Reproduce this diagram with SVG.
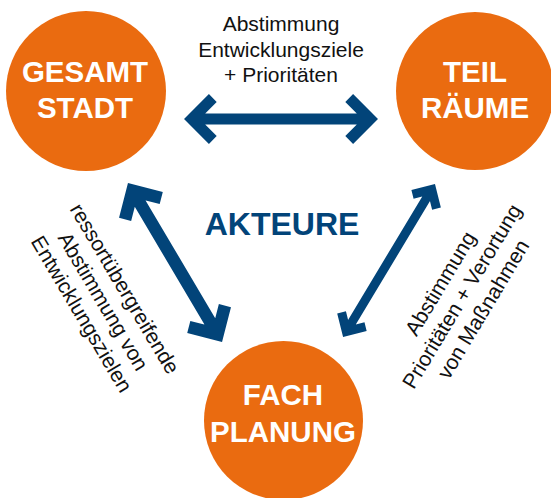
<svg xmlns="http://www.w3.org/2000/svg" width="551" height="498" viewBox="0 0 551 498">
<style>
.node{fill:#EA6B10}
.nl{font-family:"Liberation Sans",Arial,sans-serif;font-weight:bold;font-size:29.5px;fill:#fff;text-anchor:middle}
.lbl{font-family:"Liberation Sans",Arial,sans-serif;font-size:21px;fill:#111;text-anchor:middle}
.arr{fill:none;stroke:#024479;stroke-linejoin:miter;stroke-miterlimit:10;stroke-linecap:butt}
.title{font-family:"Liberation Sans",Arial,sans-serif;font-weight:bold;font-size:32px;fill:#024479;text-anchor:middle}
</style>
<rect width="551" height="498" fill="#fff"/>
<g id="connectors">
<path class="arr" stroke-width="11" d="M212.8,98 L191.8,119 L212.8,140 M191.8,119 L370.2,119 M349.2,98 L370.2,119 L349.2,140"/>
<path class="arr" stroke-width="12.5" transform="translate(128,183) rotate(59.4)" d="M29.8,-21 L8.8,0 L29.8,21 M8.8,0 L175.9,0 M154.9,-21 L175.9,0 L154.9,21"/>
<path class="arr" stroke-width="9" transform="translate(435,184) rotate(121)" d="M20.4,-14 L6.4,0 L20.4,14 M6.4,0 L172.1,0 M158.1,-14 L172.1,0 L158.1,14"/>
</g>
<g id="label-top">
<text class="lbl" x="281" y="31">Abstimmung</text>
<text class="lbl" x="281" y="56.5">Entwicklungsziele</text>
<text class="lbl" x="281" y="82">+ Prioritäten</text>
</g>
<g id="label-left" transform="translate(97,305) rotate(59.4)">
<text class="lbl" x="0" y="-25">ressortübergreifende</text>
<text class="lbl" x="0" y="0">Abstimmung von</text>
<text class="lbl" x="0" y="25">Entwicklungszielen</text>
</g>
<g id="label-right" transform="translate(468,300) rotate(-59)">
<text class="lbl" x="0" y="-25">Abstimmung</text>
<text class="lbl" x="0" y="0">Prioritäten + Verortung</text>
<text class="lbl" x="0" y="25">von Maßnahmen</text>
</g>
<g id="title">
<text class="title" x="282" y="235">AKTEURE</text>
</g>
<g id="node-gesamtstadt">
<circle class="node" cx="86" cy="91" r="80"/>
<text class="nl" x="85" y="82">GESAMT</text>
<text class="nl" x="85" y="118">STADT</text>
</g>
<g id="node-teilraeume">
<circle class="node" cx="475" cy="91" r="79"/>
<text class="nl" x="475" y="82">TEIL</text>
<text class="nl" x="475" y="118">RÄUME</text>
</g>
<g id="node-fachplanung">
<circle class="node" cx="283.5" cy="420.5" r="79.5"/>
<text class="nl" x="283" y="405">FACH</text>
<text class="nl" x="283" y="442">PLANUNG</text>
</g>
</svg>
